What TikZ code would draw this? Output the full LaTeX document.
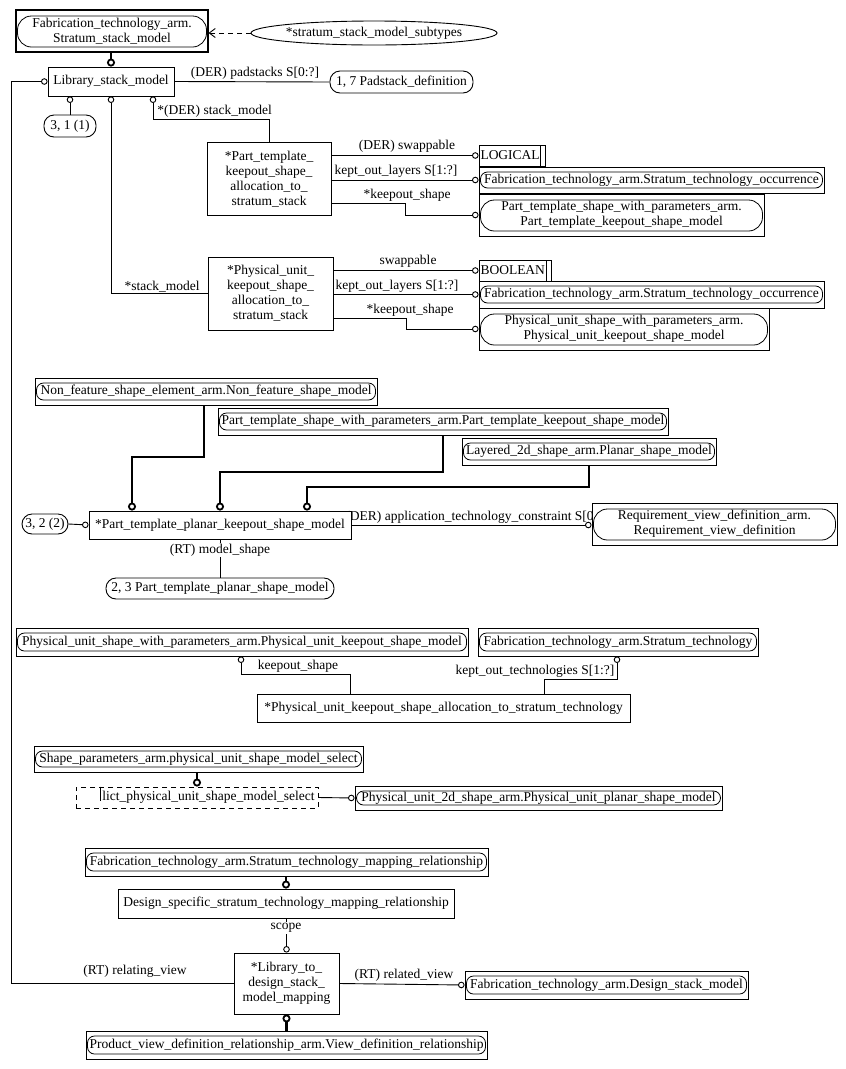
\documentclass[tikz,border=0pt]{standalone}
\usepackage{fontspec}
\setmainfont{Liberation Serif}
\usetikzlibrary{arrows.meta}
\begin{document}
\begin{tikzpicture}[x=1pt,y=-1pt,
  every node/.style={font=\fontsize{13.5}{15}\selectfont},
  line width=0.9pt,
  sz/.style 2 args={minimum width=#1pt, minimum height=#2pt},
  ent/.style={draw, fill=white, inner sep=0pt, align=center},
  extA/.style={ent, path picture={\draw[line width=0.8pt, rounded corners=7pt] ([xshift=1.5pt,yshift=-5pt]path picture bounding box.north west) rectangle ([xshift=-1.5pt,yshift=5pt]path picture bounding box.south east);}},
  extB/.style={ent, path picture={\draw[line width=0.8pt, rounded corners=14pt] ([xshift=1.5pt,yshift=-6pt]path picture bounding box.north west) rectangle ([xshift=-1.5pt,yshift=5pt]path picture bounding box.south east);}},
  typ/.style={ent, align=left, inner xsep=1.5pt, text width=#1pt, minimum height=21pt, path picture={\draw ([xshift=-4.5pt]path picture bounding box.north east) -- ([xshift=-4.5pt]path picture bounding box.south east);}},
  pref/.style={draw, fill=white, rounded corners=10pt, inner sep=0pt},
  lab/.style={inner sep=0pt},
  wlab/.style={inner sep=1pt, fill=white},
  attr/.style={-{Circle[open,length=6.5pt,width=6.5pt,line width=0.9pt]}},
  sub/.style={line width=2.6pt,-{Circle[open,length=8pt,width=8pt,line width=1.8pt]}},
]
\fill[white] (0,0) rectangle (846,1069);
\useasboundingbox (0,0) rectangle (846,1069);

% label partly hidden by boxes
\node[lab, anchor=west] (appl) at (345,517) {(DER) application\_technology\_constraint S[0:?]};

% top part
\node[extB, sz={192}{42}, line width=1.1pt] (top) at (112,31) {Fabrication\_technology\_arm.\\Stratum\_stack\_model};
\node[lab] (subt) at (374,33) {*stratum\_stack\_model\_subtypes};
\draw (subt.center) ellipse [x radius=123pt, y radius=12pt];
\coordinate (subtw) at ([xshift=-123pt]subt.center);
\node[ent, sz={126}{29}] (lib) at (111,81.5) {Library\_stack\_model};
\node[pref, sz={143}{22}] (pad) at (401.5,82) {1, 7 Padstack\_definition};
\node[pref, sz={52}{22}] (r31) at (70,126) {3, 1 (1)};
\node[ent, sz={124}{73}] (pt) at (269,179) {*Part\_template\_\\keepout\_shape\_\\allocation\_to\_\\stratum\_stack};
\node[ent, sz={125}{73}] (pu) at (270.5,293.5) {*Physical\_unit\_\\keepout\_shape\_\\allocation\_to\_\\stratum\_stack};
\node[typ=63] (logical) at (512,155.5) {LOGICAL};
\node[extA, sz={345}{26}] (sto1) at (651.5,180) {Fabrication\_technology\_arm.Stratum\_technology\_occurrence};
\node[extB, sz={285}{42}] (ptks) at (621.5,215) {Part\_template\_shape\_with\_parameters\_arm.\\Part\_template\_keepout\_shape\_model};
\node[typ=69] (bool) at (515,270.5) {BOOLEAN};
\node[extA, sz={345}{27}] (sto2) at (651.5,294.5) {Fabrication\_technology\_arm.Stratum\_technology\_occurrence};
\node[extB, sz={290}{42}] (pukm) at (624,329) {Physical\_unit\_shape\_with\_parameters\_arm.\\Physical\_unit\_keepout\_shape\_model};

% middle part
\node[extA, sz={342}{27}] (nfs) at (206,391.5) {Non\_feature\_shape\_element\_arm.Non\_feature\_shape\_model};
\node[extA, sz={450}{27}] (ptk1) at (443,421.5) {Part\_template\_shape\_with\_parameters\_arm.Part\_template\_keepout\_shape\_model};
\node[extA, sz={254}{27}] (l2d) at (589,451.5) {Layered\_2d\_shape\_arm.Planar\_shape\_model};
\node[ent, sz={262}{28}] (ptpk) at (220,525) {*Part\_template\_planar\_keepout\_shape\_model};
\node[pref, sz={46}{20}] (r32) at (45,524) {3, 2 (2)};
\node[pref, sz={228}{21}] (r23) at (220,588.5) {2, 3 Part\_template\_planar\_shape\_model};
\node[extB, sz={245}{42}] (rvd) at (714.5,524) {Requirement\_view\_definition\_arm.\\Requirement\_view\_definition};

% lower part
\node[extA, sz={452}{28}] (pukm2) at (242,642) {Physical\_unit\_shape\_with\_parameters\_arm.Physical\_unit\_keepout\_shape\_model};
\node[extA, sz={280}{28}] (st) at (618,642) {Fabrication\_technology\_arm.Stratum\_technology};
\node[ent, sz={373}{28}] (pua) at (443.5,708) {*Physical\_unit\_keepout\_shape\_allocation\_to\_stratum\_technology};
\node[extA, sz={329}{26}] (spm) at (198.5,759) {Shape\_parameters\_arm.physical\_unit\_shape\_model\_select};
\node[draw, dash pattern=on 5pt off 4pt, fill=white, sz={242}{21}, inner sep=0pt] (dsel) at (197,797.5) {};
\node[lab, anchor=east] (dseltxt) at (315,797.5) {lict\_physical\_unit\_shape\_model\_select};
\draw ([xshift=25pt]dsel.north west) -- ++(0,14);
\node[extA, sz={367}{24}] (pu2d) at (538.5,798) {Physical\_unit\_2d\_shape\_arm.Physical\_unit\_planar\_shape\_model};

% bottom part
\node[extA, sz={403}{28}] (stmr) at (286.5,862) {Fabrication\_technology\_arm.Stratum\_technology\_mapping\_relationship};
\node[ent, sz={336}{29}] (dsst) at (286,903.5) {Design\_specific\_stratum\_technology\_mapping\_relationship};
\node[ent, sz={105}{61}] (map) at (286.5,983.5) {*Library\_to\_\\design\_stack\_\\model\_mapping};
\node[extA, sz={283}{28}] (dsm) at (606.5,985) {Fabrication\_technology\_arm.Design\_stack\_model};
\node[extA, sz={401}{28}] (pvdr) at (286.5,1045) {Product\_view\_definition\_relationship\_arm.View\_definition\_relationship};

% connectors: top
\draw[dash pattern=on 5pt off 4pt, -{Straight Barb[length=6pt,width=9pt]}] (subtw) -- (subtw -| top.east);
\draw[sub] (top.south -| lib.north) -- (lib.north);
\draw (lib.east) -- (pad.west);
\node[lab] at (255,73) {(DER) padstacks S[0:?]};
\coordinate (lft) at (11,985);
\draw[attr] (map.west) -- (map.west -| lft) |- (lib.west);
\node[lab] at (135,971) {(RT) relating\_view};
\draw[attr] (r31.north) -- (r31.north |- lib.south);
\coordinate (b1) at (153,119);
\draw[attr] (pt.north) |- (b1) -- (b1 |- lib.south);
\node[lab, anchor=west] at (157,111) {*(DER) stack\_model};
\draw[attr] (pu.west) -| (lib.south);
\node[lab] at (162,287) {*stack\_model};

\draw[attr] (pt.east |- logical.west) -- (logical.west);
\node[lab] at (407,146) {(DER) swappable};
\draw[attr] (pt.east |- sto1.west) -- (sto1.west);
\node[lab] at (396,171) {kept\_out\_layers S[1:?]};
\coordinate (b2) at (405,203);
\draw[attr] (b2 -| pt.east) -- (b2) |- (ptks.west);
\node[lab] at (407,195) {*keepout\_shape};

\draw[attr] (pu.east |- bool.west) -- (bool.west);
\node[lab] at (408,261) {swappable};
\draw[attr] (pu.east |- sto2.west) -- (sto2.west);
\node[lab] at (397,286) {kept\_out\_layers S[1:?]};
\coordinate (b3) at (406,318);
\draw[attr] (b3 -| pu.east) -- (b3) |- (pukm.west);
\node[lab] at (410,310) {*keepout\_shape};

% connectors: middle
\coordinate (c1) at (204,457);
\coordinate (c1b) at (132,457);
\draw[sub] (c1 |- nfs.south) -- (c1) -- (c1b) -- (c1b |- ptpk.north);
\coordinate (c2) at (443,472);
\draw[sub] (ptk1.south) -- (c2) -| (ptpk.north);
\coordinate (c3) at (307,487);
\draw[sub] (l2d.south) |- (c3) -- (c3 |- ptpk.north);
\draw[attr] (r32.east) -- (ptpk.west);
\draw (ptpk.south) -- (r23.north);
\node[wlab] at (220,550) {(RT) model\_shape};
\draw[attr] (ptpk.east) -- (ptpk.east -| rvd.west);

% connectors: lower
\coordinate (d1) at (241,674);
\coordinate (d1b) at (350,674);
\draw[attr] (d1b |- pua.north) -- (d1b) -- (d1) -- (d1 |- pukm2.south);
\node[lab] at (298,666) {keepout\_shape};
\coordinate (d2) at (544,679);
\coordinate (d2b) at (617,679);
\draw[attr] (d2 |- pua.north) -- (d2) -- (d2b) -- (d2b |- st.south);
\node[lab] at (535,671) {kept\_out\_technologies S[1:?]};
\draw[sub] (dsel.north |- spm.south) -- (dsel.north);
\draw[attr] (dsel.east) -- (pu2d.west);

% connectors: bottom
\draw[sub] (dsst.north |- stmr.south) -- (dsst.north);
\draw[attr] (map.north |- dsst.south) -- (map.north);
\node[wlab] at (286,928) {scope};
\draw[attr] (map.east) -- (dsm.west);
\node[lab] at (404,975) {(RT) related\_view};
\draw[sub] (map.south |- pvdr.north) -- (map.south);
\end{tikzpicture}
\end{document}
